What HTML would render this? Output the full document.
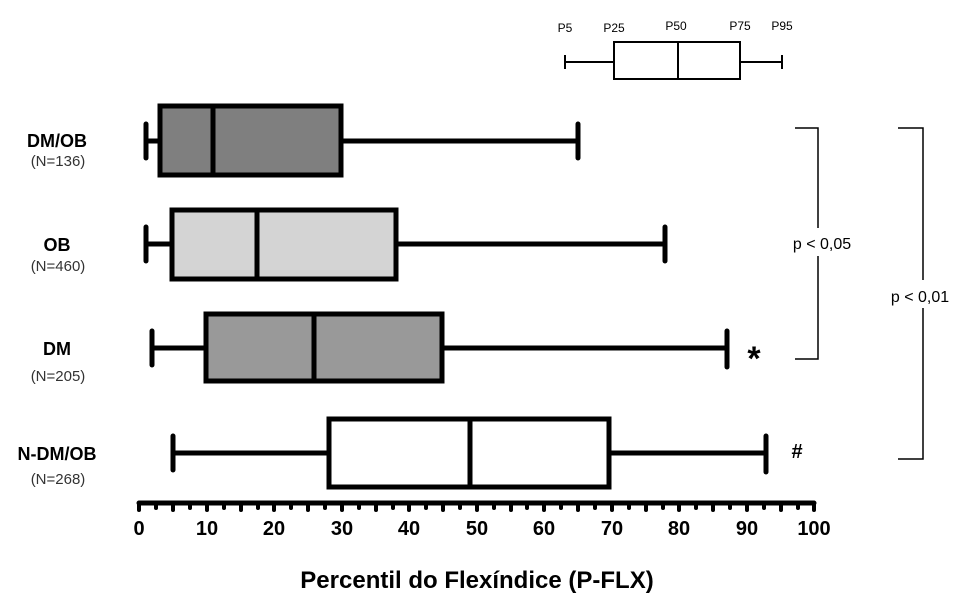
<!DOCTYPE html>
<html><head><meta charset="utf-8"><style>body{margin:0;background:#fff}svg{display:block}</style></head><body>
<svg width="967" height="608" viewBox="0 0 967 608" xmlns="http://www.w3.org/2000/svg" font-family="Liberation Sans, Arial, sans-serif">
<g stroke="#000" stroke-width="5" fill="none" stroke-linecap="round">
<line x1="146" y1="141" x2="160" y2="141"/><line x1="146" y1="124" x2="146" y2="158"/>
<line x1="341" y1="141" x2="578" y2="141"/><line x1="578" y1="124" x2="578" y2="158"/>
<rect x="160" y="106" width="181" height="69" fill="#7f7f7f"/><line x1="213" y1="106" x2="213" y2="175"/>
<line x1="146" y1="244" x2="172" y2="244"/><line x1="146" y1="227" x2="146" y2="261"/>
<line x1="396" y1="244" x2="665" y2="244"/><line x1="665" y1="227" x2="665" y2="261"/>
<rect x="172" y="210" width="224" height="69" fill="#d4d4d4"/><line x1="257" y1="210" x2="257" y2="279"/>
<line x1="152" y1="348" x2="206" y2="348"/><line x1="152" y1="331" x2="152" y2="365"/>
<line x1="442" y1="348" x2="727" y2="348"/><line x1="727" y1="331" x2="727" y2="367"/>
<rect x="206" y="314" width="236" height="67" fill="#999"/><line x1="314" y1="314" x2="314" y2="381"/>
<line x1="173" y1="453" x2="329" y2="453"/><line x1="173" y1="436" x2="173" y2="470"/>
<line x1="609" y1="453" x2="766" y2="453"/><line x1="766" y1="436" x2="766" y2="472"/>
<rect x="329" y="419" width="280" height="68" fill="#fff"/><line x1="470" y1="419" x2="470" y2="487"/>
<line x1="139" y1="503" x2="814" y2="503"/>
</g>
<g stroke="#000" stroke-width="4" stroke-linecap="round">
<line x1="139" y1="503" x2="139" y2="510"/><line x1="156" y1="503" x2="156" y2="508"/><line x1="173" y1="503" x2="173" y2="510"/><line x1="190" y1="503" x2="190" y2="508"/><line x1="207" y1="503" x2="207" y2="510"/><line x1="224" y1="503" x2="224" y2="508"/><line x1="241" y1="503" x2="241" y2="510"/><line x1="258" y1="503" x2="258" y2="508"/><line x1="274" y1="503" x2="274" y2="510"/><line x1="291" y1="503" x2="291" y2="508"/><line x1="308" y1="503" x2="308" y2="510"/><line x1="325" y1="503" x2="325" y2="508"/><line x1="342" y1="503" x2="342" y2="510"/><line x1="359" y1="503" x2="359" y2="508"/><line x1="376" y1="503" x2="376" y2="510"/><line x1="393" y1="503" x2="393" y2="508"/><line x1="409" y1="503" x2="409" y2="510"/><line x1="426" y1="503" x2="426" y2="508"/><line x1="443" y1="503" x2="443" y2="510"/><line x1="460" y1="503" x2="460" y2="508"/><line x1="477" y1="503" x2="477" y2="510"/><line x1="494" y1="503" x2="494" y2="508"/><line x1="511" y1="503" x2="511" y2="510"/><line x1="527" y1="503" x2="527" y2="508"/><line x1="544" y1="503" x2="544" y2="510"/><line x1="561" y1="503" x2="561" y2="508"/><line x1="578" y1="503" x2="578" y2="510"/><line x1="595" y1="503" x2="595" y2="508"/><line x1="612" y1="503" x2="612" y2="510"/><line x1="629" y1="503" x2="629" y2="508"/><line x1="646" y1="503" x2="646" y2="510"/><line x1="663" y1="503" x2="663" y2="508"/><line x1="679" y1="503" x2="679" y2="510"/><line x1="696" y1="503" x2="696" y2="508"/><line x1="713" y1="503" x2="713" y2="510"/><line x1="730" y1="503" x2="730" y2="508"/><line x1="747" y1="503" x2="747" y2="510"/><line x1="764" y1="503" x2="764" y2="508"/><line x1="781" y1="503" x2="781" y2="510"/><line x1="798" y1="503" x2="798" y2="508"/><line x1="814" y1="503" x2="814" y2="510"/>
</g>
<g font-size="20" font-weight="bold" text-anchor="middle" fill="#000">
<text x="139" y="535">0</text><text x="207" y="535">10</text><text x="274" y="535">20</text><text x="342" y="535">30</text><text x="409" y="535">40</text><text x="477" y="535">50</text><text x="544" y="535">60</text><text x="612" y="535">70</text><text x="679" y="535">80</text><text x="747" y="535">90</text><text x="814" y="535">100</text>
<text x="477" y="588" font-size="24">Percentil do Flexíndice (P-FLX)</text>
</g>
<g text-anchor="middle" fill="#000">
<text x="57" y="147" font-size="18" font-weight="bold">DM/OB</text><text x="58" y="166" font-size="15" fill="#333">(N=136)</text>
<text x="57" y="251" font-size="18" font-weight="bold">OB</text><text x="58" y="271" font-size="15" fill="#333">(N=460)</text>
<text x="57" y="355" font-size="18" font-weight="bold">DM</text><text x="58" y="381" font-size="15" fill="#333">(N=205)</text>
<text x="57" y="460" font-size="18" font-weight="bold">N-DM/OB</text><text x="58" y="484" font-size="15" fill="#333">(N=268)</text>
</g>
<text x="754" y="370" font-size="34" font-weight="bold" text-anchor="middle">*</text>
<text x="797" y="458" font-size="20" font-weight="bold" text-anchor="middle">#</text>
<g stroke="#000" stroke-width="2" fill="#fff">
<line x1="565" y1="62" x2="614" y2="62"/><line x1="565" y1="55" x2="565" y2="69"/>
<line x1="740" y1="62" x2="782" y2="62"/><line x1="782" y1="55" x2="782" y2="69"/>
<rect x="614" y="42" width="126" height="37"/><line x1="678" y1="42" x2="678" y2="79"/>
</g>
<g font-size="12" text-anchor="middle">
<text x="565" y="32">P5</text><text x="614" y="32">P25</text><text x="676" y="30">P50</text><text x="740" y="30">P75</text><text x="782" y="30">P95</text>
</g>
<g stroke="#000" stroke-width="1.5" fill="none">
<polyline points="795,128 818,128 818,359 795,359"/>
<polyline points="898,128 923,128 923,459 898,459"/>
</g>
<rect x="810" y="228" width="20" height="28" fill="#fff"/>
<rect x="912" y="280" width="20" height="28" fill="#fff"/>
<g font-size="16" text-anchor="middle">
<text x="822" y="249">p &lt; 0,05</text><text x="920" y="302">p &lt; 0,01</text>
</g>
</svg>
</body></html>
